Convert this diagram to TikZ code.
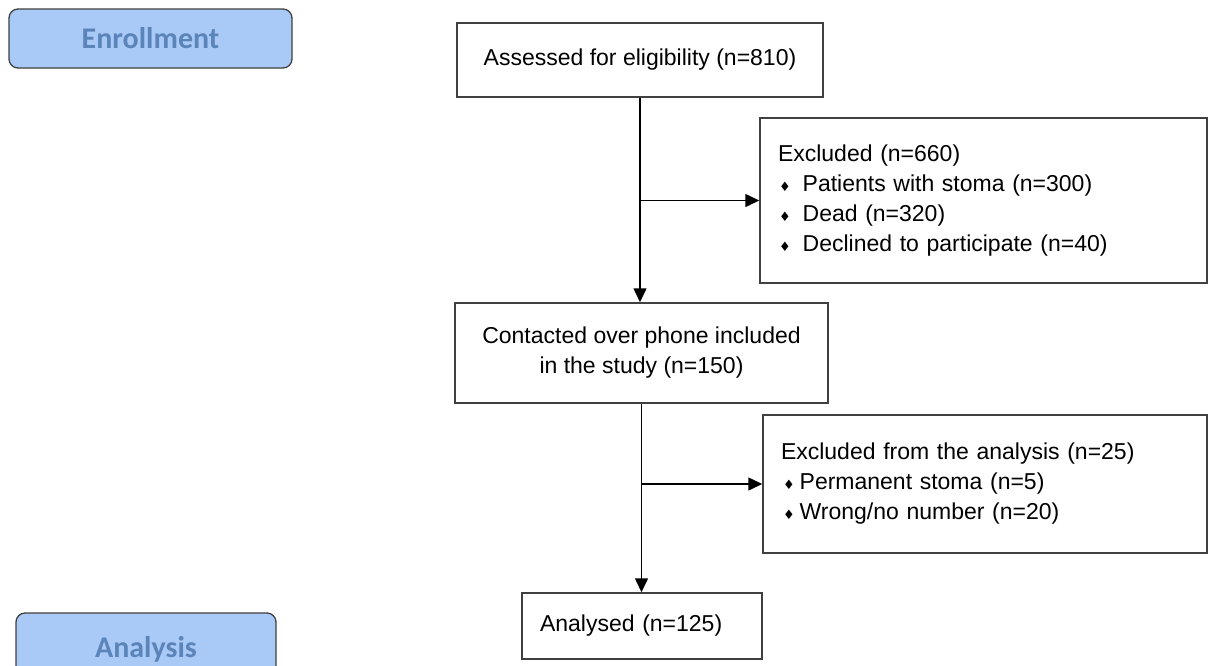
\documentclass[tikz,border=0pt]{standalone}
\usepackage{fontspec}
\setmainfont{Liberation Sans}
\newfontfamily\calib{Carlito}
\newfontfamily\dejavu{DejaVu Sans}
\usetikzlibrary{arrows.meta}
\definecolor{phasefill}{HTML}{A9C9F7}
\definecolor{phasetext}{HTML}{5B84B8}
\definecolor{edgegray}{HTML}{404040}
\newcommand{\bulmark}{{\dejavu\fontsize{13}{13}\selectfont ♦}}
\begin{document}
\begin{tikzpicture}[x=1pt,y=-1pt,
  phase/.style={draw=edgegray, line width=1.3pt, fill=phasefill, rounded corners=9pt,
    font=\calib\bfseries\fontsize{30}{34}\selectfont, text=phasetext, inner sep=0pt},
  box/.style={draw=edgegray, line width=1.5pt, inner sep=0pt,
    font=\fontsize{23}{30}\selectfont, align=center},
  lbox/.style={box, align=left, inner xsep=18pt},
  arr/.style={line width=1.5pt, -{Triangle[length=14pt,width=13pt]}},
  ln/.style={line width=1.5pt}]
\useasboundingbox (0,0) rectangle (1211,665);
\clip (0,0) rectangle (1211,665);
\fill[white] (0,0) rectangle (1211,665);

\node[phase, minimum width=283pt, minimum height=59pt] (enroll) at (150.5,38.5) {Enrollment};
\node[phase, minimum width=260pt, minimum height=72pt] (analysis) at (146,649) {Analysis};

\node[box, minimum width=366pt, minimum height=74pt] (assess) at (640,60) {Assessed for eligibility (n=810)};
\node[box, minimum width=373pt, minimum height=100pt] (contact) at (641.5,353)
  {Contacted over phone included\\in the study (n=150)};
\node[lbox, text width=411pt, minimum height=165pt] (excl1) at (983.5,200.5)
  {Excluded (n=660)\\
   \hspace*{1pt}\bulmark\hspace{12pt}Patients with stoma (n=300)\\
   \hspace*{1pt}\bulmark\hspace{12pt}Dead (n=320)\\
   \hspace*{1pt}\bulmark\hspace{12pt}Declined to participate (n=40)};
\node[lbox, text width=408pt, minimum height=138pt] (excl2) at (985,484)
  {Excluded from the analysis (n=25)\\
   \hspace*{2pt}\bulmark\hspace{5pt}Permanent stoma (n=5)\\
   \hspace*{2pt}\bulmark\hspace{5pt}Wrong/no number (n=20)};
\node[lbox, text width=204pt, minimum height=66pt] (analysed) at (642,626) {Analysed (n=125)};

\draw[arr] (assess.south) -- (assess.south |- contact.north);
\coordinate (j1) at (assess.south |- excl1.west);
\draw[arr] (j1) -- (excl1.west);
\draw[arr] (contact.south) -- (contact.south |- analysed.north);
\coordinate (j2) at (contact.south |- excl2.west);
\draw[arr] (j2) -- (excl2.west);
\end{tikzpicture}
\end{document}
